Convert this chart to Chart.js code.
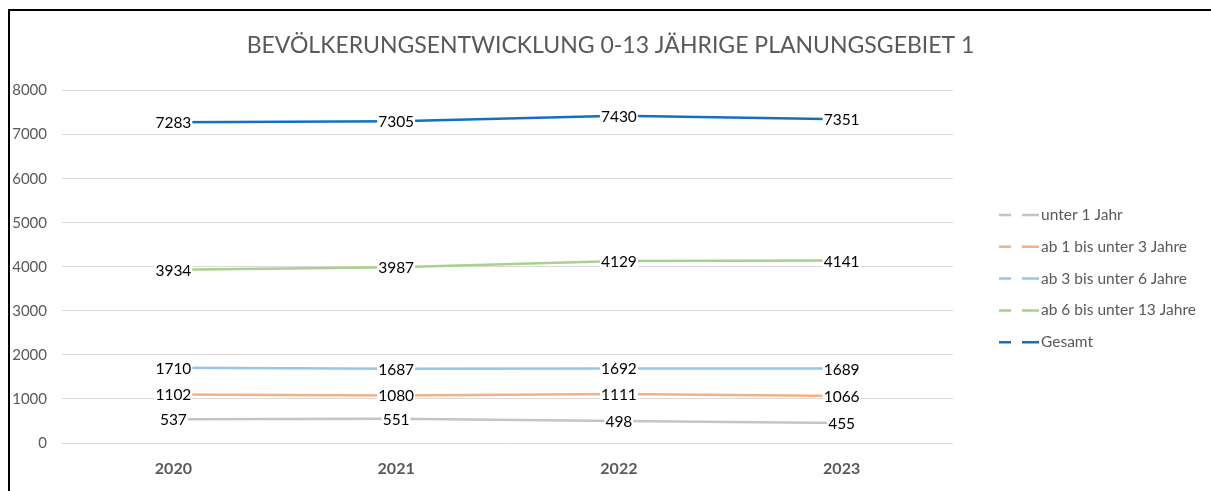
<!DOCTYPE html>
<html><head><meta charset="utf-8">
<script src="https://cdn.jsdelivr.net/npm/chart.js@4"></script>
<style>
html,body{margin:0;padding:0;background:#fff;}
#wrap{position:relative;width:1211px;height:491px;overflow:hidden;}
#frame{position:absolute;left:8px;top:9px;right:-5px;bottom:-5px;border-left:2px solid #000;border-top:2px solid #000;pointer-events:none;}
canvas{position:absolute;left:0;top:0;}
</style></head><body>
<div id="wrap"><canvas id="c" width="1211" height="491"></canvas><div id="frame"></div></div>
<script>
const titleText = 'BEVÖLKERUNGSENTWICKLUNG 0-13 JÄHRIGE PLANUNGSGEBIET 1';
const categories = ['2020', '2021', '2022', '2023'];
const seriesNames = ['unter 1 Jahr', 'ab 1 bis unter 3 Jahre', 'ab 3 bis unter 6 Jahre', 'ab 6 bis unter 13 Jahre', 'Gesamt'];
const unter1 = [537, 551, 498, 455];
const ab1bis3 = [1102, 1080, 1111, 1066];
const ab3bis6 = [1710, 1687, 1692, 1689];
const ab6bis13 = [3934, 3987, 4129, 4141];
const gesamt = [7283, 7305, 7430, 7351];
const yTicks = [0, 1000, 2000, 3000, 4000, 5000, 6000, 7000, 8000];
const colors = ['#C4C4C4', '#F4B183', '#9DC3E6', '#A9D18E', '#1270C4'];

const seriesValues = [unter1, ab1bis3, ab3bis6, ab6bis13, gesamt];

const dataLabelPlugin = {
  id: 'dataLabels',
  afterDatasetsDraw(chart) {
    const ctx = chart.ctx;
    ctx.save();
    ctx.font = '15.5px Lato';
    ctx.textAlign = 'center';
    ctx.textBaseline = 'middle';
    chart.data.datasets.forEach((ds, i) => {
      const meta = chart.getDatasetMeta(i);
      meta.data.forEach((pt, j) => {
        const txt = String(ds.data[j]);
        const w = ctx.measureText(txt).width;
        ctx.fillStyle = '#ffffff';
        ctx.fillRect(pt.x - w / 2 - 1, pt.y - 8, w + 2, 16);
        ctx.fillStyle = '#000000';
        ctx.fillText(txt, pt.x, pt.y + 1);
      });
    });
    ctx.restore();
  }
};

const legendPlugin = {
  id: 'customLegend',
  afterDraw(chart) {
    const ctx = chart.ctx;
    ctx.save();
    ctx.font = '15.5px Lato';
    ctx.textBaseline = 'middle';
    ctx.textAlign = 'left';
    const x0 = 999, y0 = 215, dy = 31.8;
    chart.data.datasets.forEach((ds, i) => {
      const y = y0 + i * dy;
      ctx.strokeStyle = ds.borderColor;
      ctx.lineWidth = 2.5;
      ctx.beginPath();
      ctx.moveTo(x0, y); ctx.lineTo(x0 + 12, y);
      ctx.moveTo(x0 + 23, y); ctx.lineTo(x0 + 40, y);
      ctx.stroke();
      ctx.fillStyle = '#595959';
      ctx.fillText(ds.label, x0 + 42, y);
    });
    ctx.restore();
  }
};

new Chart(document.getElementById('c'), {
  type: 'line',
  data: {
    labels: categories,
    datasets: seriesNames.map((name, i) => ({
      label: name,
      data: seriesValues[i],
      borderColor: colors[i],
      backgroundColor: colors[i],
      borderWidth: 2.5,
      pointRadius: 0,
      tension: 0,
      fill: false
    }))
  },
  options: {
    responsive: false,
    animation: false,
    devicePixelRatio: 1,
    layout: { padding: { left: 10, right: 0, top: 10, bottom: 0 } },
    plugins: {
      legend: { display: false },
      tooltip: { enabled: false },
      title: {
        display: true,
        text: titleText,
        color: '#595959',
        font: { family: 'Lato', size: 23, weight: 'normal' },
        padding: { top: 22, bottom: 31 }
      }
    },
    scales: {
      x: {
        offset: true,
        grid: { display: false, drawTicks: false },
        border: { display: false },
        ticks: { font: { family: 'Lato', size: 16, weight: 'bold' }, color: '#595959', padding: 16 },
        afterFit(s) { s.height = 48; }
      },
      y: {
        min: 0, max: 8000,
        afterBuildTicks(s) { s.ticks = yTicks.map(v => ({ value: v })); },
        ticks: { font: { family: 'Lato', size: 15 }, color: '#595959', padding: 15, callback: v => String(v) },
        grid: { color: '#D9D9D9', lineWidth: 1, drawTicks: false },
        border: { display: false },
        afterFit(s) { s.width = 52; }
      },
      spacer: {
        type: 'linear', position: 'right', min: 0, max: 1,
        ticks: { display: false },
        grid: { display: false, drawTicks: false },
        border: { display: false },
        afterFit(s) { s.width = 258; }
      }
    }
  },
  plugins: [dataLabelPlugin, legendPlugin]
});
</script>
</body></html>
